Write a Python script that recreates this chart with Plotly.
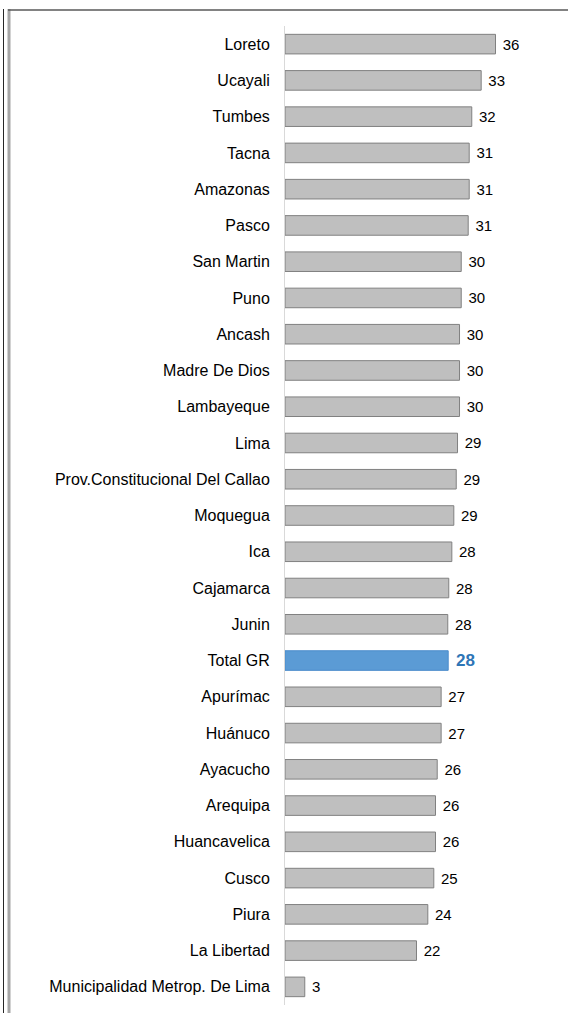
import plotly.graph_objects as go

categories = ["Loreto", "Ucayali", "Tumbes", "Tacna", "Amazonas", "Pasco", "San Martin", "Puno",
              "Ancash", "Madre De Dios", "Lambayeque", "Lima", "Prov.Constitucional Del Callao",
              "Moquegua", "Ica", "Cajamarca", "Junin", "Total GR", "Apurímac", "Huánuco",
              "Ayacucho", "Arequipa", "Huancavelica", "Cusco", "Piura", "La Libertad",
              "Municipalidad Metrop. De Lima"]
values = [35.86, 33.42, 31.82, 31.38, 31.38, 31.21, 30.02, 30.02,
          29.73, 29.73, 29.73, 29.39, 29.17,
          28.76, 28.42, 27.90, 27.73, 27.80, 26.60, 26.60,
          25.93, 25.64, 25.64, 25.35, 24.33, 22.40,
          3.37]
highlight = "Total GR"

W_PX = 568; H_PX = 1013
L, R, T, B = 285, 8, 26, 8
PW = W_PX - L - R
PH = H_PX - T - B
px_per_unit = 5.87
xmax = PW / px_per_unit

FONT = "Liberation Sans, Arial, sans-serif"

gray_cats = [c for c in categories if c != highlight]
gray_vals = [v for c, v in zip(categories, values) if c != highlight]
hl_vals = [v for c, v in zip(categories, values) if c == highlight]

fig = go.Figure()
fig.add_trace(go.Bar(
    y=gray_cats, x=gray_vals, orientation="h", width=0.54,
    marker=dict(color="#BFBFBF", line=dict(color="#808080", width=1)),
    texttemplate="\u00a0%{x:.0f}", textposition="outside", cliponaxis=False,
    textfont=dict(family=FONT, size=15, color="#000000"),
    hoverinfo="skip", showlegend=False,
))
fig.add_trace(go.Bar(
    y=[highlight], x=hl_vals, orientation="h", width=0.54,
    marker=dict(color="#5B9BD5", line=dict(color="#4A8BCB", width=1)),
    texttemplate="\u00a0%{x:.0f}", textposition="outside", cliponaxis=False,
    textfont=dict(family=FONT, size=17, color="#2E75B6", weight="bold"),
    hoverinfo="skip", showlegend=False,
))

def px_x(px):
    return (px - L) / PW

def px_y(py):
    return (H_PX - B - py) / PH

shapes = [
    dict(type="line", xref="paper", yref="paper", x0=px_x(3.5), x1=px_x(3.5), y0=px_y(9), y1=px_y(H_PX + 5),
         line=dict(color="#262626", width=1)),
    dict(type="line", xref="paper", yref="paper", x0=px_x(9), x1=px_x(9), y0=px_y(9), y1=px_y(H_PX + 5),
         line=dict(color="#A6A6A6", width=3)),
    dict(type="line", xref="paper", yref="paper", x0=px_x(8), x1=px_x(W_PX + 5), y0=px_y(10), y1=px_y(10),
         line=dict(color="#595959", width=1.5)),
]

fig.update_layout(
    width=W_PX, height=H_PX,
    margin=dict(l=L, r=R, t=T, b=B, pad=0),
    paper_bgcolor="white", plot_bgcolor="white",
    barmode="overlay",
    shapes=shapes,
    xaxis=dict(range=[0, xmax], visible=False, fixedrange=True),
    yaxis=dict(
        categoryorder="array", categoryarray=categories, autorange="reversed",
        showline=True, linecolor="#D9D9D9", linewidth=1, showgrid=False, zeroline=False,
        ticks="", ticklabelstandoff=11,
        tickfont=dict(family=FONT, size=16, color="#000000"),
        fixedrange=True,
    ),
    font=dict(family=FONT),
)

fig.write_html(
    "out.html",
    config={"displayModeBar": False},
    post_script="document.body.style.margin='0';document.body.style.overflow='hidden';",
)
